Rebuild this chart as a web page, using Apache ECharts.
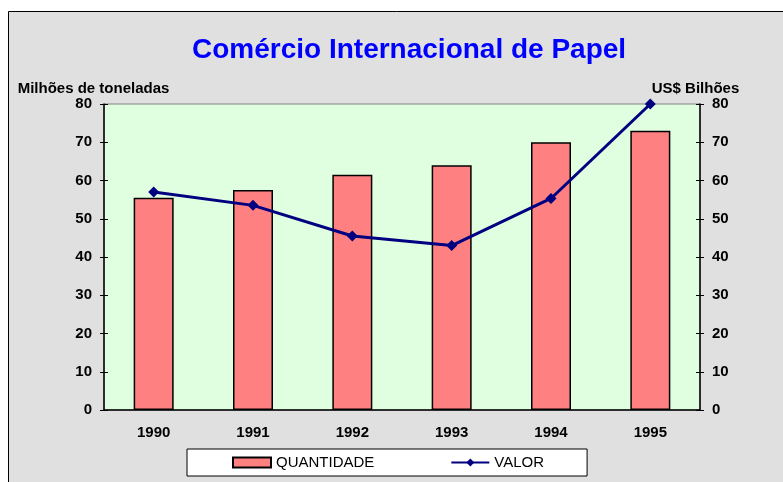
<!DOCTYPE html>
<html>
<head>
<meta charset="utf-8">
<script src="https://cdn.jsdelivr.net/npm/echarts@6/dist/echarts.min.js"></script>
<style>
html, body { margin: 0; padding: 0; background: #fff; }
#chart { width: 783px; height: 482px; }
</style>
</head>
<body>
<div id="chart"></div>
<script>
var years = ['1990', '1991', '1992', '1993', '1994', '1995'];
var quantidade = [55.5, 57.5, 61.5, 64, 70, 73];
var valor = [57, 53.5, 45.5, 43, 55.3, 80];

var chart = echarts.init(document.getElementById('chart'));
var font = 'Liberation Sans, Arial, sans-serif';
var labelStyle = { color: '#000', fontWeight: 'bold', fontSize: 15, fontFamily: font };

chart.setOption({
    backgroundColor: '#fff',
    animation: false,
    textStyle: { fontFamily: font },
    graphic: [{
        type: 'rect',
        z: -10,
        shape: { x: 8.5, y: 11.5, width: 800, height: 500 },
        style: { fill: '#e0e0e0', stroke: '#000', lineWidth: 1 }
    }],
    title: {
        text: 'Comércio Internacional de Papel',
        left: 187,
        top: 31,
        textStyle: { color: '#0000ff', fontSize: 28, fontWeight: 'bold', fontFamily: font }
    },
    legend: {
        left: 187,
        top: 449,
        padding: [6, 43, 6, 45],
        itemGap: 76,
        itemWidth: 38,
        itemHeight: 10,
        backgroundColor: '#fff',
        borderColor: '#000',
        borderWidth: 1,
        borderRadius: 0,
        textStyle: { color: '#000', fontSize: 15, fontFamily: font },
        data: [{ name: 'QUANTIDADE', icon: 'rect' }, { name: 'VALOR' }]
    },
    grid: {
        left: 104,
        right: 83,
        top: 104,
        bottom: 72,
        show: true,
        backgroundColor: '#e0ffe0',
        borderColor: '#808080',
        borderWidth: 1
    },
    xAxis: [{
        type: 'category',
        data: years,
        axisLine: { lineStyle: { color: '#000', width: 1.5 } },
        axisTick: { length: 5, lineStyle: { color: '#000' } },
        axisLabel: Object.assign({ margin: 15 }, labelStyle)
    }, {
        type: 'category',
        data: years,
        position: 'bottom',
        axisLine: { show: false },
        axisTick: { inside: true, length: 4, lineStyle: { color: '#000' } },
        axisLabel: { show: false }
    }],
    yAxis: [{
        type: 'value',
        name: 'Milhões de toneladas',
        nameLocation: 'end',
        nameGap: 8,
        nameTextStyle: Object.assign({ padding: [0, 21, 0, 0] }, labelStyle),
        min: 0, max: 80, interval: 10,
        position: 'left',
        splitLine: { show: false },
        axisLine: { show: true, lineStyle: { color: '#000', width: 1.5 } },
        axisTick: { show: true, length: 4, lineStyle: { color: '#000' } },
        axisLabel: Object.assign({ margin: 12 }, labelStyle)
    }, {
        type: 'value',
        name: 'US$ Bilhões',
        nameLocation: 'end',
        nameGap: 8,
        nameTextStyle: Object.assign({ padding: [0, 9, 0, 0] }, labelStyle),
        min: 0, max: 80, interval: 10,
        position: 'right',
        splitLine: { show: false },
        axisLine: { show: true, lineStyle: { color: '#000', width: 1.5 } },
        axisTick: { show: true, length: 4, lineStyle: { color: '#000' } },
        axisLabel: Object.assign({ margin: 12 }, labelStyle)
    }, {
        type: 'value',
        min: 0, max: 80, interval: 10,
        position: 'left',
        splitLine: { show: false },
        axisLine: { show: false },
        axisTick: { show: true, inside: true, length: 4, lineStyle: { color: '#000' } },
        axisLabel: { show: false }
    }, {
        type: 'value',
        min: 0, max: 80, interval: 10,
        position: 'right',
        splitLine: { show: false },
        axisLine: { show: false },
        axisTick: { show: true, inside: true, length: 4, lineStyle: { color: '#000' } },
        axisLabel: { show: false }
    }],
    series: [{
        name: 'QUANTIDADE',
        type: 'bar',
        data: quantidade,
        yAxisIndex: 0,
        barWidth: 40,
        itemStyle: { color: '#ff8080', borderColor: '#000', borderWidth: 1.5 }
    }, {
        name: 'VALOR',
        type: 'line',
        data: valor,
        yAxisIndex: 1,
        symbol: 'diamond',
        symbolSize: 11,
        lineStyle: { color: '#000080', width: 3 },
        itemStyle: { color: '#000080' },
        z: 5
    }]
});
</script>
</body>
</html>
